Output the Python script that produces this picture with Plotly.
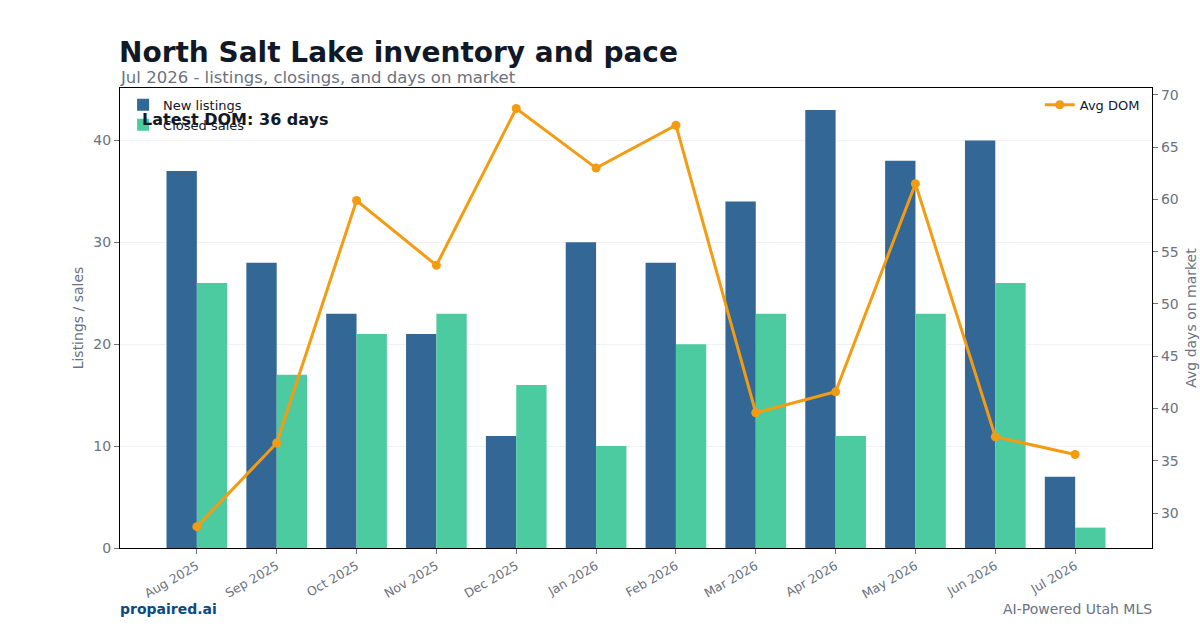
import plotly.graph_objects as go

months = ["Aug 2025", "Sep 2025", "Oct 2025", "Nov 2025", "Dec 2025", "Jan 2026",
          "Feb 2026", "Mar 2026", "Apr 2026", "May 2026", "Jun 2026", "Jul 2026"]
new_listings = [37, 28, 23, 21, 11, 30, 28, 34, 43, 38, 40, 7]
closed_sales = [26, 17, 21, 23, 16, 10, 20, 23, 11, 23, 26, 2]
avg_dom = [28.7, 36.7, 59.9, 53.7, 68.7, 63.0, 67.1, 39.6, 41.6, 61.5, 37.3, 35.6]

FONT = "DejaVu Sans"
GREY = "#6b7280"

fig = go.Figure()
fig.add_trace(go.Bar(x=months, y=new_listings, name="New listings",
                     marker=dict(color="#336796", line=dict(width=0)), legend="legend"))
fig.add_trace(go.Bar(x=months, y=closed_sales, name="Closed sales",
                     marker=dict(color="#4ccaa0", line=dict(width=0)), legend="legend"))
fig.add_trace(go.Scatter(x=months, y=avg_dom, name="Avg DOM", yaxis="y2",
                         mode="lines+markers",
                         line=dict(color="#f39c12", width=3),
                         marker=dict(color="#f39c12", size=9),
                         legend="legend2"))

PH = 460.0

def py(pix):
    return (630 - 82 - pix) / PH

fig.update_layout(
    width=1200, height=630,
    margin=dict(l=120, r=48, t=88, b=82, autoexpand=False),
    paper_bgcolor="white", plot_bgcolor="white",
    font=dict(family=FONT, color=GREY, size=13),
    barmode="group", bargap=0.24, bargroupgap=0,
    showlegend=True,
    legend=dict(x=0.003, y=0.996, xanchor="left", yanchor="top",
                bgcolor="rgba(255,255,255,0)", font=dict(size=13, color="#111827"),
                tracegroupgap=0),
    legend2=dict(x=0.993, y=0.996, xanchor="right", yanchor="top",
                 bgcolor="rgba(255,255,255,0)", font=dict(size=13, color="#111827")),
    xaxis=dict(type="category", range=[-0.9625, 11.9625], automargin=False,
               showline=True, linecolor="black", linewidth=1.2, mirror=True,
               ticks="outside", ticklen=5, tickcolor=GREY,
               tickangle=-30, tickfont=dict(size=12.5, color=GREY), showgrid=False),
    yaxis=dict(range=[0, 45.15], tickvals=[0, 10, 20, 30, 40], automargin=False,
               showline=True, linecolor="black", linewidth=1.2,
               ticks="outside", ticklen=5, tickcolor=GREY,
               tickfont=dict(size=14, color=GREY),
               showgrid=True, gridcolor="#f1f1f1", gridwidth=1, zeroline=False,
               title=dict(text="Listings / sales", font=dict(size=14, color=GREY), standoff=6)),
    yaxis2=dict(overlaying="y", side="right", range=[26.66, 70.66], automargin=False,
                tickvals=[30, 35, 40, 45, 50, 55, 60, 65, 70],
                showline=True, linecolor="black", linewidth=1.2,
                ticks="outside", ticklen=5, tickcolor=GREY,
                tickfont=dict(size=14, color=GREY), showgrid=False, zeroline=False,
                title=dict(text="Avg days on market", font=dict(size=14, color=GREY), standoff=8)),
    annotations=[
        dict(text="<b>North Salt Lake inventory and pace</b>", xref="paper", yref="paper",
             x=0, y=py(52), xanchor="left", yanchor="middle", xshift=-3,
             showarrow=False, font=dict(size=28, color="#111827", family=FONT)),
        dict(text="Jul 2026 - listings, closings, and days on market", xref="paper", yref="paper",
             x=0, y=py(78), xanchor="left", yanchor="middle", xshift=-2,
             showarrow=False, font=dict(size=16.5, color=GREY, family=FONT)),
        dict(text="<b>Latest DOM: 36 days</b>", xref="paper", yref="paper",
             x=20 / 1032, y=py(119), xanchor="left", yanchor="middle",
             showarrow=False, font=dict(size=16, color="#111827", family=FONT)),
        dict(text="<b>propaired.ai</b>", xref="paper", yref="paper",
             x=0, y=py(609), xanchor="left", yanchor="middle", xshift=-2,
             showarrow=False, font=dict(size=14, color="#0b4a85", family=FONT)),
        dict(text="AI-Powered Utah MLS", xref="paper", yref="paper",
             x=1, y=py(609), xanchor="right", yanchor="middle", xshift=2,
             showarrow=False, font=dict(size=14, color=GREY, family=FONT)),
    ],
)

fig.write_html("out.html")
